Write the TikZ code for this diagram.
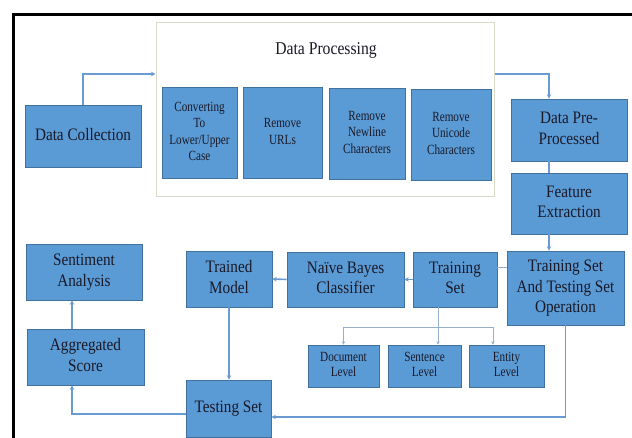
\documentclass[tikz,border=0pt]{standalone}
\usepackage{fontspec}
\usepackage{graphicx}
\setmainfont{Liberation Serif}
\usetikzlibrary{arrows.meta}
\definecolor{boxfill}{RGB}{91,155,213}
\definecolor{boxline}{RGB}{65,113,156}
\definecolor{lnblue}{RGB}{105,155,210}
\definecolor{lnlight}{RGB}{150,175,205}
\definecolor{txt}{RGB}{25,25,40}
\definecolor{dpline}{RGB}{214,220,200}
\newcommand{\bt}[1]{\scalebox{0.87}[1]{\begin{tabular}{@{}c@{}}#1\end{tabular}}}
\newcommand{\st}[1]{\scalebox{0.8}[1]{\begin{tabular}{@{}c@{}}#1\end{tabular}}}
\begin{document}
\begin{tikzpicture}[x=1pt,y=-1pt,
  box/.style={draw=boxline, line width=0.6pt, fill=boxfill, text=txt, align=center, inner sep=0pt,
    font=\fontsize{17.5}{20.5}\selectfont},
  sbox/.style={box, font=\fontsize{14}{16.5}\selectfont},
  lbox/.style={box, font=\fontsize{14}{15.5}\selectfont},
  link/.style={draw=lnblue, line width=1.6pt, -{Stealth[length=4.5pt,width=4.5pt]}},
  plink/.style={draw=lnblue, line width=1.6pt},
  thin/.style={draw=lnlight, line width=0.9pt},
  thinarrow/.style={thin, -{Stealth[length=3.5pt,width=3.5pt]}}]
\clip (0,0) rectangle (632,438);
\fill[white] (0,0) rectangle (632,438);
% frame
\draw[line width=3pt] (13.5,445) -- (13.5,14.5) -- (640,14.5);

% Data processing group
\node[draw=dpline, line width=1pt, fill=white, minimum width=338pt, minimum height=174pt, inner sep=0pt] (dp) at (325,110) {};
\node[text=txt, inner sep=0pt, font=\fontsize{18}{21}\selectfont] (dpt) at (326,50) {\bt{Data Processing}};
\node[sbox, minimum width=75pt, minimum height=91pt] (s1) at (199.5,132.5) {\st{Converting\\To\\Lower/Upper\\Case}};
\node[sbox, minimum width=79pt, minimum height=91pt] (s2) at (282.5,132.5) {\st{Remove\\URLs}};
\node[sbox, minimum width=76pt, minimum height=91pt] (s3) at (367,133.5) {\st{Remove\\Newline\\Characters}};
\node[sbox, minimum width=80pt, minimum height=91pt] (s4) at (451,134.5) {\st{Remove\\Unicode\\Characters}};

% main boxes
\node[box, minimum width=116pt, minimum height=62pt] (dc) at (83,136) {\bt{Data Collection}};
\node[box, minimum width=116pt, minimum height=62pt] (pp) at (569,130) {\bt{Data Pre-\\Processed}};
\node[box, minimum width=116pt, minimum height=61pt] (fe) at (569,203.5) {\bt{Feature\\Extraction}};
\node[box, minimum width=117pt, minimum height=74pt] (op) at (565.5,288) {\bt{Training Set\\And Testing Set\\Operation}};
\node[box, minimum width=84pt, minimum height=55pt] (ts) at (455,279.5) {\bt{Training\\Set}};
\node[box, minimum width=117pt, minimum height=55pt] (nb) at (345.5,279.5) {\bt{Naïve Bayes\\Classifier}};
\node[box, minimum width=86pt, minimum height=56pt] (tm) at (229,279) {\bt{Trained\\Model}};
\node[box, minimum width=116pt, minimum height=56pt] (sa) at (84,272) {\bt{Sentiment\\Analysis}};
\node[box, minimum width=117pt, minimum height=56pt] (ag) at (85.5,357) {\bt{Aggregated\\Score}};
\node[box, minimum width=85pt, minimum height=57pt] (te) at (228.5,408.5) {\bt{Testing Set}};
\node[lbox, minimum width=71pt, minimum height=42pt] (dl) at (343.5,366) {\st{Document\\Level}};
\node[lbox, minimum width=73pt, minimum height=42pt] (sl) at (424.5,366) {\st{Sentence\\Level}};
\node[lbox, minimum width=75pt, minimum height=42pt] (el) at (506.5,366) {\st{Entity\\Level}};

% connector helper coordinates
\coordinate (c1) at (83,74);
\coordinate (c2) at (549,74);
\coordinate (c3) at (438,327);
\coordinate (c4) at (343.5,327);
\coordinate (c5) at (493,327);
\coordinate (c6) at (565.5,417);
\coordinate (c7) at (72,414);

% connectors
\draw[link] (dc.north) -- (c1) -- (c1 -| dp.west);
\draw[link] (c2 -| dp.east) -- (c2) -- (c2 |- pp.north);
\draw[plink] (c2 |- pp.south) -- (c2 |- fe.north);
\draw[link] (c2 |- fe.south) -- (c2 |- op.north);
\draw[thin] (op.west |- 0,267) -- (ts.east |- 0,267);
\draw[link] (ts.west) -- (nb.east);
\draw[link] (nb.west) -- (tm.east);
\draw[link] (tm.south) -- (tm.south |- te.north);
\draw[thinarrow] (c3 |- ts.south) -- (c3 |- sl.north);
\draw[thin] (c4) -- (c5);
\draw[thinarrow] (c4) -- (c4 |- dl.north);
\draw[thinarrow] (c5) -- (c5 |- el.north);
\draw[link] (op.south) -- (c6) -- (c6 -| te.east);
\draw[link] (c7 -| te.west) -- (c7) -- (c7 |- ag.south);
\draw[link] (c7 |- ag.north) -- (c7 |- sa.south);
\end{tikzpicture}
\end{document}
